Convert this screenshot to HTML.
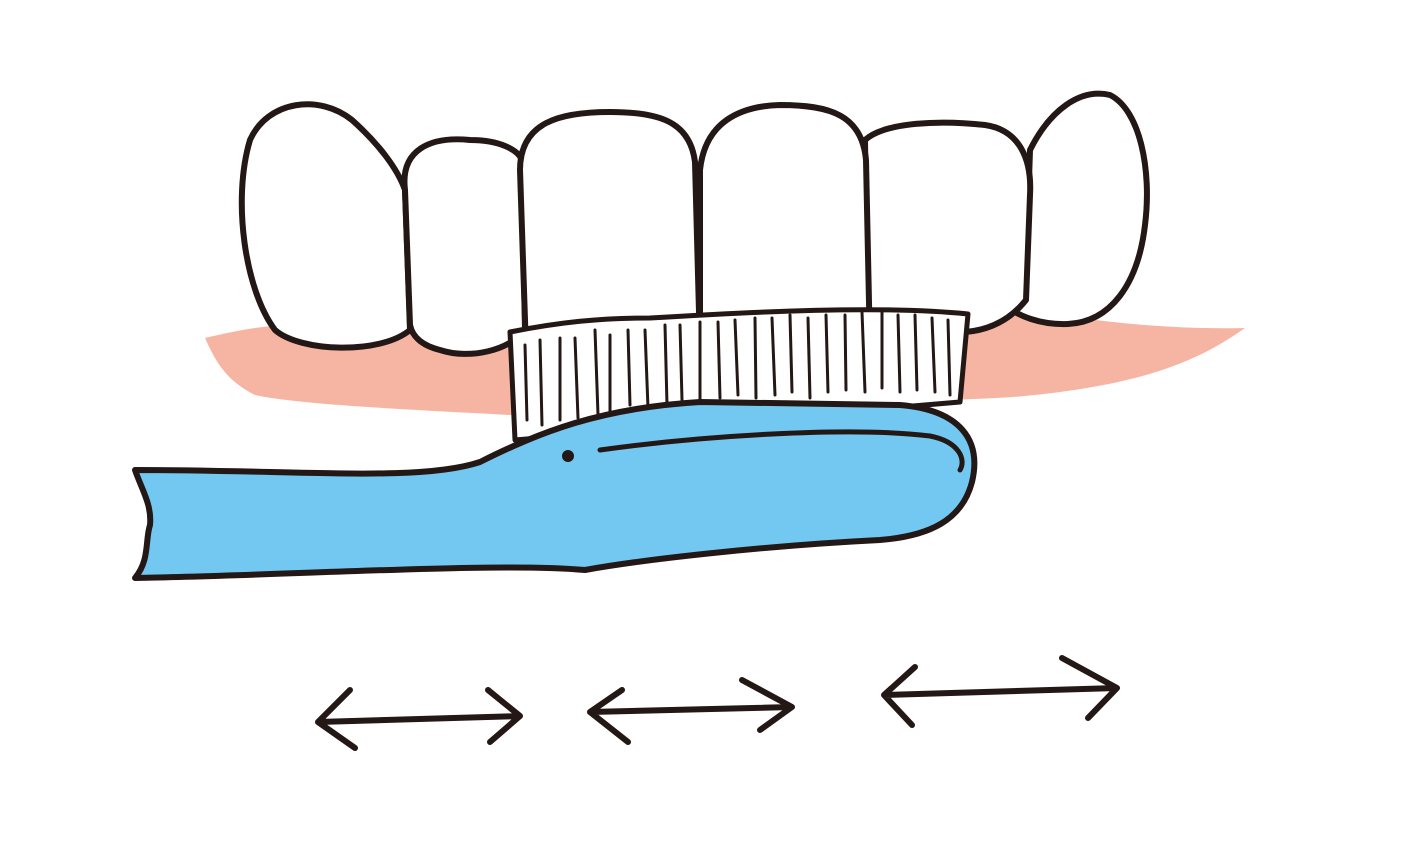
<!DOCTYPE html>
<html><head><meta charset="utf-8"><style>html,body{margin:0;padding:0;background:#fff}svg{display:block}</style></head>
<body>
<svg width="1407" height="841" viewBox="0 0 1407 841" xmlns="http://www.w3.org/2000/svg">
<g fill="none" stroke="#231815" stroke-width="6" stroke-linecap="round" stroke-linejoin="round">
<path d="M205,338 C260,325 300,320 340,330 L1000,305 C1080,320 1160,330 1245,328 C1200,360 1150,380 1060,392 C1000,400 970,398 960,400 L510,415 C420,410 300,405 255,395 C225,380 215,360 205,338 Z" fill="#F6B5A3" stroke="none"/>
<path d="M1030,150 C1050,110 1080,88 1110,95 C1140,110 1152,170 1145,225 C1138,285 1110,322 1068,324 C1040,325 1018,316 1005,305 L1025,300 L1030,150 Z" fill="#fff"/>
<path d="M865,140 C885,122 940,120 985,125 C1020,130 1032,160 1030,195 L1026,300 C1010,320 990,330 965,332 L960,350 L868,350 Z" fill="#fff"/>
<path d="M275,330 C245,290 232,200 250,140 C268,100 320,94 352,120 C380,145 398,170 405,190 L410,330 C380,355 300,352 275,330 Z" fill="#fff"/>
<path d="M405,190 C400,150 430,136 470,140 C500,140 518,150 522,160 L525,330 C510,350 470,360 440,350 C420,345 412,335 410,325 Z" fill="#fff"/>
<path d="M700,350 L700,170 C705,122 740,106 780,105 C830,105 862,115 866,160 L870,350 Z" fill="#fff"/>
<path d="M526,350 L520,170 C520,122 560,112 610,112 C660,112 690,122 695,162 L700,350 Z" fill="#fff"/>
<path d="M510,332 C560,322 600,318 650,318 C750,312 880,305 968,314 L960,402 L515,440 Z" fill="#fff" stroke-width="5"/>
<g stroke-width="3">
<path d="M525,345 L527,420 M540,340 L542,425 M560,338 L560,420 M575,338 L578,418 M595,330 L598,415 M610,335 L610,412 M628,330 L630,405 M645,330 L648,408 M665,325 L667,405 M680,325 L682,400 M700,322 L700,402 M718,322 L720,398 M735,320 L738,395 M755,318 L756,398 M772,318 L775,395 M790,315 L792,392 M808,318 L810,398 M826,315 L828,392 M845,315 L846,390 M862,312 L865,392 M882,312 L882,388 M898,315 L900,392 M915,315 L917,390 M932,318 L935,392 M948,320 L950,395"/>
</g>
<path d="M135,470 C300,470 420,482 480,462 C540,432 600,408 700,402 L900,405 C960,410 982,440 972,482 C962,520 930,536 880,540 C760,546 640,560 585,570 C500,562 300,575 135,578 C150,560 145,540 150,525 C152,505 142,490 135,470 Z" fill="#72C8F0"/>
<path d="M600,450 C700,436 850,426 930,436 C960,442 966,460 960,470" stroke-width="5"/>
<circle cx="568" cy="456" r="3" fill="#231815"/>
<path d="M318,722 L520,716 M350,690 L318,722 L355,748 M488,690 L520,716 L490,742"/>
<path d="M590,712 L792,707 M622,690 L590,712 L628,742 M742,680 L792,707 L760,730"/>
<path d="M884,695 L1117,688 M915,667 L884,695 L912,725 M1062,658 L1117,688 L1088,718"/>
</g>
</svg>
</body></html>
